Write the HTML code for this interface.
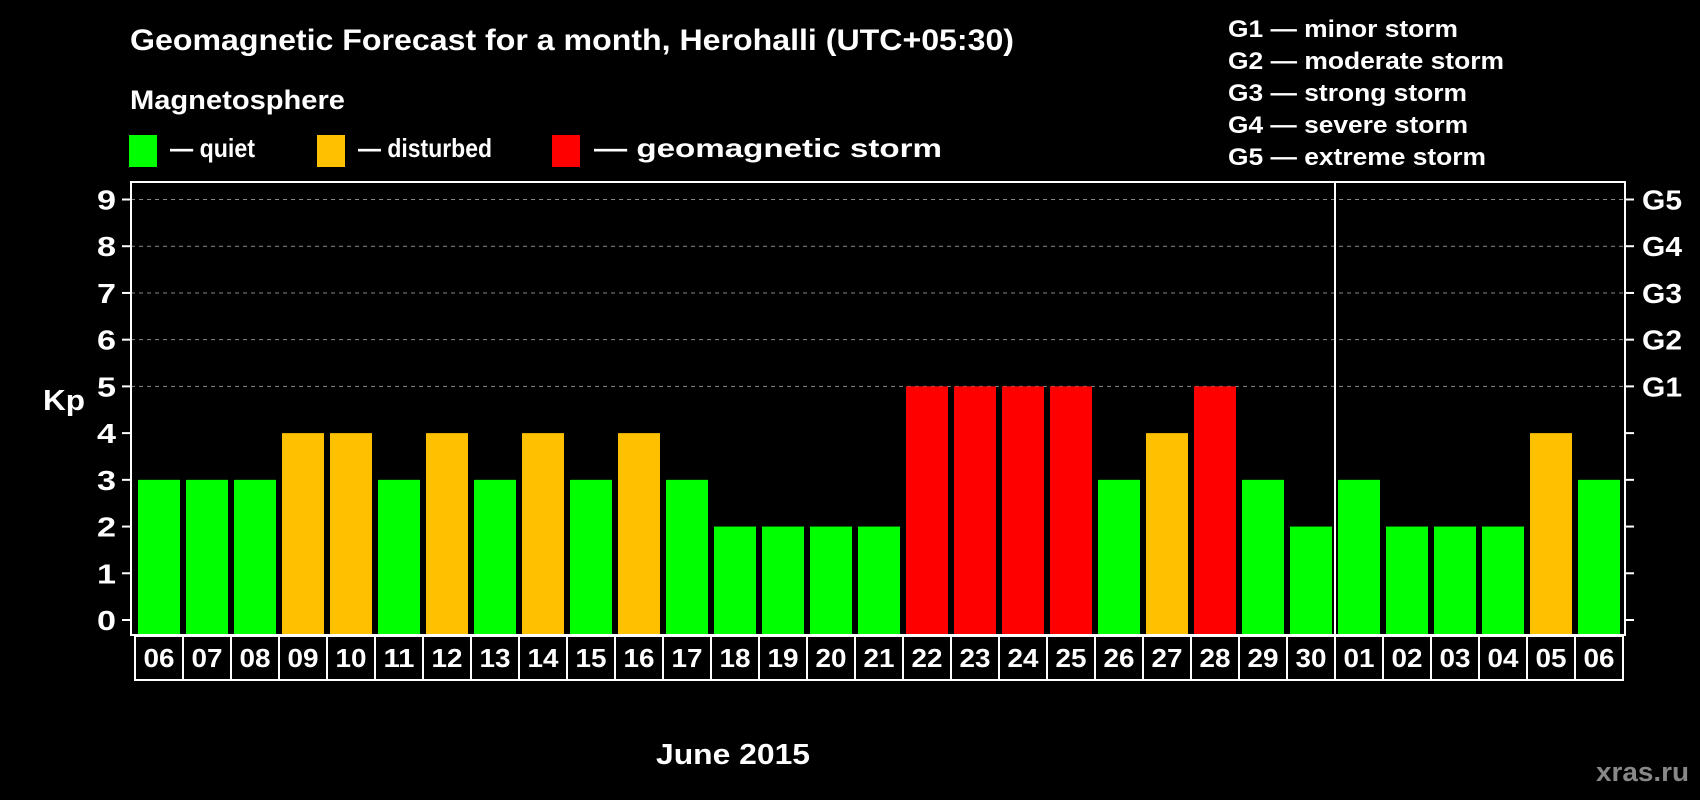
<!DOCTYPE html>
<html><head><meta charset="utf-8"><style>
html,body{margin:0;padding:0;background:#000;}
svg{display:block;font-family:"Liberation Sans",Arial,sans-serif;font-weight:bold;}
</style></head><body>
<svg id="chart" width="1700" height="800" viewBox="0 0 1700 800">
<text x="130" y="50" fill="#fff" font-size="30" textLength="884" lengthAdjust="spacingAndGlyphs">Geomagnetic Forecast for a month, Herohalli (UTC+05:30)</text>
<text x="130" y="109" fill="#fff" font-size="27" textLength="215" lengthAdjust="spacingAndGlyphs">Magnetosphere</text>
<g><rect x="129" y="135" width="28" height="32" fill="#00ff00"/><text x="170" y="157" fill="#fff" font-size="26" textLength="85" lengthAdjust="spacingAndGlyphs">— quiet</text></g>
<g><rect x="317" y="135" width="28" height="32" fill="#ffc000"/><text x="358" y="157" fill="#fff" font-size="26" textLength="134" lengthAdjust="spacingAndGlyphs">— disturbed</text></g>
<g><rect x="552" y="135" width="28" height="32" fill="#ff0000"/><text x="594" y="157" fill="#fff" font-size="26" textLength="348" lengthAdjust="spacingAndGlyphs">— geomagnetic storm</text></g>
<g fill="#fff" font-size="24">
<text x="1228" y="37" textLength="230" lengthAdjust="spacingAndGlyphs">G1 — minor storm</text>
<text x="1228" y="69" textLength="276" lengthAdjust="spacingAndGlyphs">G2 — moderate storm</text>
<text x="1228" y="101" textLength="239" lengthAdjust="spacingAndGlyphs">G3 — strong storm</text>
<text x="1228" y="133" textLength="240" lengthAdjust="spacingAndGlyphs">G4 — severe storm</text>
<text x="1228" y="165" textLength="258" lengthAdjust="spacingAndGlyphs">G5 — extreme storm</text>
</g>
<text x="43" y="410" fill="#fff" font-size="29" textLength="42" lengthAdjust="spacingAndGlyphs">Kp</text>
<text x="656" y="764" fill="#fff" font-size="29" textLength="154" lengthAdjust="spacingAndGlyphs">June 2015</text>
<text x="1596" y="781" fill="#888" font-size="27" textLength="93" lengthAdjust="spacingAndGlyphs">xras.ru</text>
<g id="grid"></g><g id="bars"></g><g id="axes"></g>
</svg>
<script>
const days=["06","07","08","09","10","11","12","13","14","15","16","17","18","19","20","21","22","23","24","25","26","27","28","29","30","01","02","03","04","05","06"];
const kp=[3,3,3,4,4,3,4,3,4,3,4,3,2,2,2,2,5,5,5,5,3,4,5,3,2,3,2,2,2,4,3];
const yTicks=[0,1,2,3,4,5,6,7,8,9];
const gLabels=["G1","G2","G3","G4","G5"];
const NS="http://www.w3.org/2000/svg";
const L=131,R=1625,T=182,B=635,Y0=620,Y9=199.5;
const y=v=>Y0-(Y0-Y9)/9*v;
const slot=48,x0=135;
const x=i=>x0+i*slot;
function mk(t,a,p){const e=document.createElementNS(NS,t);for(const k in a)e.setAttribute(k,a[k]);p.appendChild(e);return e;}
const grid=document.getElementById('grid'),bars=document.getElementById('bars'),axes=document.getElementById('axes');
yTicks.forEach(v=>{
  if(v>=5){const g=mk('line',{x1:L,x2:R,y1:y(v),y2:y(v),stroke:'#888','stroke-dasharray':'4,4','stroke-width':1},grid);
  
  }
  mk('line',{x1:L-9,x2:L,y1:y(v),y2:y(v),stroke:'#fff','stroke-width':2},axes);
  mk('line',{x1:R,x2:R+9,y1:y(v),y2:y(v),stroke:'#fff','stroke-width':2},axes);
  const t=mk('text',{x:116,y:y(v)+10,fill:'#fff','font-size':28,'text-anchor':'end',textLength:19,lengthAdjust:'spacingAndGlyphs'},axes);t.textContent=v;
  
  
});
gLabels.forEach((g,i)=>{const t=mk('text',{x:1642,y:y(5+i)+10,fill:'#fff','font-size':28,textLength:40,lengthAdjust:'spacingAndGlyphs'},axes);t.textContent=g;
  
  });
kp.forEach((v,i)=>{
  const c=v>=5?'#ff0000':v>=4?'#ffc000':'#00ff00';
  const r=mk('rect',{x:x(i)+3,y:y(v),width:42,height:B-y(v),fill:c},bars);
  
  
  mk('rect',{x:x(i),y:B+1,width:slot,height:44,fill:'none',stroke:'#fff','stroke-width':2},axes);
  const t=mk('text',{x:x(i)+slot/2,y:B+32,fill:'#fff','font-size':26,'text-anchor':'middle',textLength:31,lengthAdjust:'spacingAndGlyphs'},axes);t.textContent=days[i];
  
  
});
mk('rect',{x:L,y:T,width:R-L,height:B-T,fill:'none',stroke:'#fff','stroke-width':2},axes);
const mi=days.indexOf("01");
mk('line',{x1:x(mi),x2:x(mi),y1:T,y2:B,stroke:'#fff','stroke-width':2},axes);
</script>
</body></html>
